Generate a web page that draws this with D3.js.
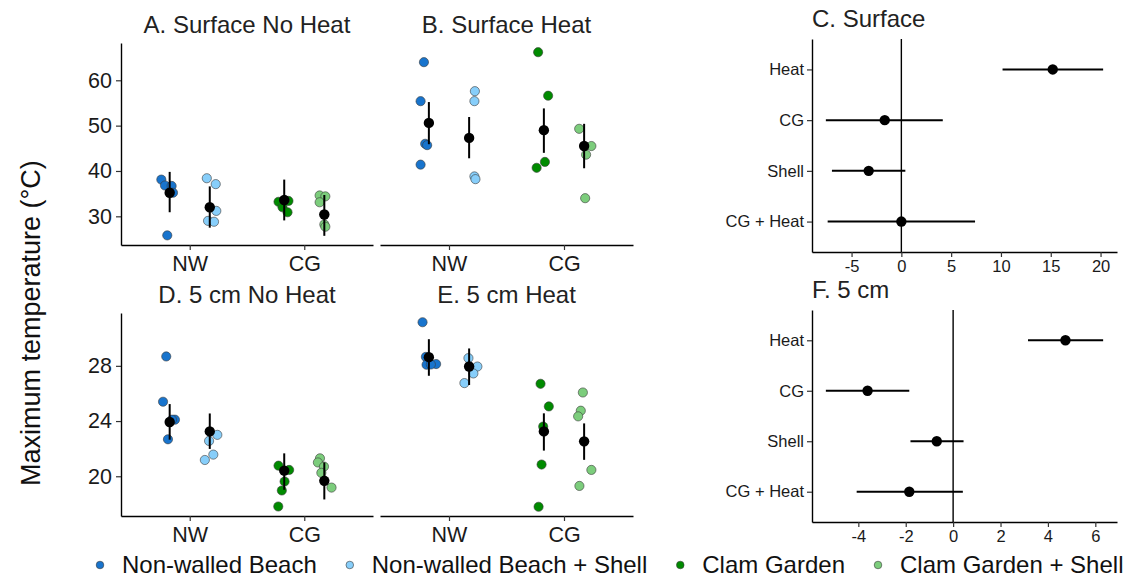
<!DOCTYPE html>
<html><head><meta charset="utf-8">
<script src="https://cdn.jsdelivr.net/npm/d3@7/dist/d3.min.js"></script>
<style>
body{margin:0;background:#fff;}
text{font-family:"Liberation Sans",Arial,Helvetica,sans-serif;}
</style>
</head><body>
<svg id="chart" width="1128" height="578"></svg>
<script>
// ---------- data ----------
const groups = ["Non-walled Beach", "Non-walled Beach + Shell", "Clam Garden", "Clam Garden + Shell"];
const groupSite = ["NW", "NW", "CG", "CG"];
const groupSide = [-1, 1, -1, 1];
const sites = ["NW", "CG"];
const groupColors = ["#1874CD", "#87CEFA", "#008B00", "#7CCD7C"];

// Panel A: Surface No Heat
const surfNoHeatVals = [[38.1, 36.8, 36.7, 35.2, 25.8], [38.4, 37.1, 31.2, 29.0, 28.8], [33.2, 33.4, 32.0, 30.9, 33.5], [34.6, 34.4, 33.1, 28.2, 27.7]];
const surfNoHeatJitter = [[-0.073, -0.041, 0.017, 0.029, -0.021], [-0.026, 0.052, 0.057, -0.015, 0.037], [-0.05, 0.037, -0.015, 0.029, 0.003], [-0.041, 0.009, -0.041, 0, 0.009]];
const surfNoHeatMean = [35.2, 32.0, 33.6, 30.4];
const surfNoHeatLo = [30.9, 27.5, 29.1, 25.7];
const surfNoHeatHi = [39.8, 36.6, 38.1, 34.7];

// Panel B: Surface Heat
const surfHeatVals = [[64.0, 55.4, 46.0, 45.7, 41.4], [57.6, 55.4, 38.8, 38.2], [66.2, 56.6, 42.0, 40.7], [49.3, 45.5, 43.6, 34.0]];
const surfHeatJitter = [[-0.043, -0.072, -0.032, -0.015, -0.072], [0.05, 0.046, 0.046, 0.055], [-0.05, 0.037, 0.009, -0.063], [-0.043, 0.063, 0.017, 0.009]];
const surfHeatMean = [50.6, 47.3, 49.0, 45.5];
const surfHeatLo = [45.9, 42.8, 44.0, 40.6];
const surfHeatHi = [55.2, 51.9, 53.8, 50.4];

// Panel D: 5 cm No Heat
const cmNoHeatVals = [[28.68, 25.4, 24.1, 24.1, 22.68], [23.0, 22.56, 21.57, 21.18], [20.77, 20.46, 19.62, 18.97, 17.81], [21.3, 21.0, 20.7, 20.25, 19.18]];
const cmNoHeatJitter = [[-0.03, -0.058, 0.046, 0.02, -0.015], [0.066, -0.006, 0.031, -0.043], [-0.05, 0.043, 0.003, -0.021, -0.052], [-0.038, -0.056, -0.003, -0.026, 0.063]];
const cmNoHeatMean = [23.93, 23.25, 20.41, 19.67];
const cmNoHeatLo = [22.65, 21.98, 19.02, 18.32];
const cmNoHeatHi = [25.23, 24.55, 21.66, 21.0];

// Panel E: 5 cm Heat
const cmHeatVals = [[31.16, 28.65, 28.08, 28.13, 28.1], [28.56, 27.95, 27.45, 26.75], [26.7, 25.06, 23.6, 20.85, 17.79], [26.07, 24.75, 24.34, 20.46, 19.3]];
const cmHeatJitter = [[-0.055, -0.026, -0.02, 0.063, 0.017], [-0.006, 0.072, 0.037, -0.041], [-0.029, 0.043, -0.006, -0.02, -0.046], [-0.011, -0.029, -0.052, 0.063, -0.041]];
const cmHeatMean = [28.63, 27.95, 23.25, 22.53];
const cmHeatLo = [27.28, 26.61, 21.86, 21.19];
const cmHeatHi = [29.93, 29.26, 24.56, 23.83];

const surfTicks = [30, 40, 50, 60];
const cmTicks = [20, 24, 28];

// Forest plots (C, F)
const effects = ["Heat", "CG", "Shell", "CG + Heat"];
const surfEst = [15.2, -1.67, -3.28, 0.0];
const surfEstLo = [10.16, -7.58, -6.97, -7.4];
const surfEstHi = [20.26, 4.16, 0.4, 7.4];
const cmEst = [4.74, -3.61, -0.69, -1.85];
const cmEstLo = [3.16, -5.37, -1.8, -4.07];
const cmEstHi = [6.33, -1.85, 0.44, 0.41];
const surfEffTicks = [-5, 0, 5, 10, 15, 20];
const cmEffTicks = [-4, -2, 0, 2, 4, 6];

// ---------- layout ----------
const svg = d3.select("#chart");
const DODGE = 0.175;
const FONT = '"Liberation Sans",Arial,Helvetica,sans-serif';

function expandedDomain(arrs) {
  const all = arrs.flat(2);
  const mn = d3.min(all), mx = d3.max(all), pad = (mx - mn) * 0.05;
  return [mn - pad, mx + pad];
}

function styleAxis(g, fontSize) {
  g.select(".domain").attr("stroke", "#000").attr("stroke-width", 1.4);
  g.selectAll(".tick line").attr("stroke", "#333").attr("stroke-width", 1.2);
  g.selectAll(".tick text").attr("fill", "#1a1a1a").style("font-size", fontSize + "px").style("font-family", FONT);
}

function scatterPanel(p) {
  const g = svg.append("g");
  const x = d3.scalePoint().domain(sites).range([p.x0, p.x1]).padding(0.6);
  const y = d3.scaleLinear().domain(p.yDomain).range([p.y1, p.y0]);
  const step = x.step();
  const cx = (gi, off) => x(groupSite[gi]) + (groupSide[gi] * DODGE + off) * step;

  const xa = g.append("g").attr("transform", `translate(0,${p.y1})`)
    .call(d3.axisBottom(x).tickSize(5).tickSizeOuter(0).tickPadding(6));
  styleAxis(xa, 21.5);
  if (p.showY) {
    const ya = g.append("g").attr("transform", `translate(${p.x0},0)`)
      .call(d3.axisLeft(y).tickValues(p.yTicks).tickSize(5).tickSizeOuter(0).tickPadding(4));
    styleAxis(ya, 21.5);
  }

  p.vals.forEach((arr, gi) => {
    g.append("g").selectAll("circle").data(arr).join("circle")
      .attr("cx", (d, i) => cx(gi, p.jit[gi][i]))
      .attr("cy", d => y(d))
      .attr("r", 4.6)
      .attr("fill", groupColors[gi])
      .attr("stroke", "#3a3a3a").attr("stroke-width", 0.6);
  });

  const mg = g.append("g");
  mg.selectAll("line").data(p.mean).join("line")
    .attr("x1", (d, gi) => cx(gi, 0)).attr("x2", (d, gi) => cx(gi, 0))
    .attr("y1", (d, gi) => y(p.lo[gi])).attr("y2", (d, gi) => y(p.hi[gi]))
    .attr("stroke", "#000").attr("stroke-width", 2);
  mg.selectAll("circle").data(p.mean).join("circle")
    .attr("cx", (d, gi) => cx(gi, 0)).attr("cy", d => y(d))
    .attr("r", 5.2).attr("fill", "#000");

  g.append("text").attr("x", (p.x0 + p.x1) / 2).attr("y", p.y0 - 10)
    .attr("text-anchor", "middle").attr("fill", "#222")
    .style("font-size", "24px").text(p.title);
}

function forestPanel(p) {
  const g = svg.append("g");
  const x = d3.scaleLinear().domain(expandedDomain([p.lo, p.hi, p.est])).range([p.x0, p.x1]);
  const y = d3.scalePoint().domain(effects).range([p.y0, p.y1]).padding(0.6);

  g.append("line").attr("x1", x(0)).attr("x2", x(0)).attr("y1", p.y0).attr("y2", p.y1)
    .attr("stroke", "#000").attr("stroke-width", 1.4);

  const xa = g.append("g").attr("transform", `translate(0,${p.y1})`)
    .call(d3.axisBottom(x).tickValues(p.ticks).tickFormat(d => String(d)).tickSize(5).tickSizeOuter(0).tickPadding(3));
  styleAxis(xa, 16.5);
  const ya = g.append("g").attr("transform", `translate(${p.x0},0)`)
    .call(d3.axisLeft(y).tickSize(5).tickSizeOuter(0).tickPadding(3));
  styleAxis(ya, 16.5);

  g.append("g").selectAll("line").data(effects).join("line")
    .attr("x1", (d, i) => x(p.lo[i])).attr("x2", (d, i) => x(p.hi[i]))
    .attr("y1", d => y(d)).attr("y2", d => y(d))
    .attr("stroke", "#000").attr("stroke-width", 2);
  g.append("g").selectAll("circle").data(effects).join("circle")
    .attr("cx", (d, i) => x(p.est[i])).attr("cy", d => y(d))
    .attr("r", 5.2).attr("fill", "#000");

  g.append("text").attr("x", p.x0).attr("y", p.y0 - 12)
    .attr("fill", "#222").style("font-size", "24px").text(p.title);
}

const surfDomain = expandedDomain([surfNoHeatVals, surfHeatVals, surfNoHeatLo, surfNoHeatHi, surfHeatLo, surfHeatHi]);
const cmDomain = expandedDomain([cmNoHeatVals, cmHeatVals, cmNoHeatLo, cmNoHeatHi, cmHeatLo, cmHeatHi]);

scatterPanel({x0: 121, x1: 373, y0: 43, y1: 245, title: "A. Surface No Heat", yDomain: surfDomain, yTicks: surfTicks, showY: true,
  vals: surfNoHeatVals, jit: surfNoHeatJitter, mean: surfNoHeatMean, lo: surfNoHeatLo, hi: surfNoHeatHi});
scatterPanel({x0: 380, x1: 633, y0: 43, y1: 245, title: "B. Surface Heat", yDomain: surfDomain, yTicks: surfTicks, showY: false,
  vals: surfHeatVals, jit: surfHeatJitter, mean: surfHeatMean, lo: surfHeatLo, hi: surfHeatHi});
scatterPanel({x0: 121, x1: 373, y0: 313, y1: 516, title: "D. 5 cm No Heat", yDomain: cmDomain, yTicks: cmTicks, showY: true,
  vals: cmNoHeatVals, jit: cmNoHeatJitter, mean: cmNoHeatMean, lo: cmNoHeatLo, hi: cmNoHeatHi});
scatterPanel({x0: 380, x1: 633, y0: 313, y1: 516, title: "E. 5 cm Heat", yDomain: cmDomain, yTicks: cmTicks, showY: false,
  vals: cmHeatVals, jit: cmHeatJitter, mean: cmHeatMean, lo: cmHeatLo, hi: cmHeatHi});

forestPanel({x0: 812, x1: 1117, y0: 39, y1: 252, title: "C. Surface", est: surfEst, lo: surfEstLo, hi: surfEstHi, ticks: surfEffTicks});
forestPanel({x0: 812, x1: 1117, y0: 310, y1: 522, title: "F. 5 cm", est: cmEst, lo: cmEstLo, hi: cmEstHi, ticks: cmEffTicks});

svg.append("text").attr("transform", "translate(40,486) rotate(-90)")
  .attr("text-anchor", "start").attr("fill", "#111")
  .style("font-size", "27px").text("Maximum temperature (°C)");

// legend: laid out sequentially (key, label, spacing)
const lg = svg.append("g");
let lx = 100;
groups.forEach((gname, i) => {
  lg.append("circle").attr("cx", lx).attr("cy", 565).attr("r", 3.8)
    .attr("fill", groupColors[i]).attr("stroke", "#3a3a3a").attr("stroke-width", 0.6);
  const t = lg.append("text").attr("x", lx + 22).attr("y", 573)
    .attr("fill", "#111").style("font-size", "24px").text(gname);
  lx = lx + 22 + t.node().getComputedTextLength() + 33;
});
</script>
</body></html>
